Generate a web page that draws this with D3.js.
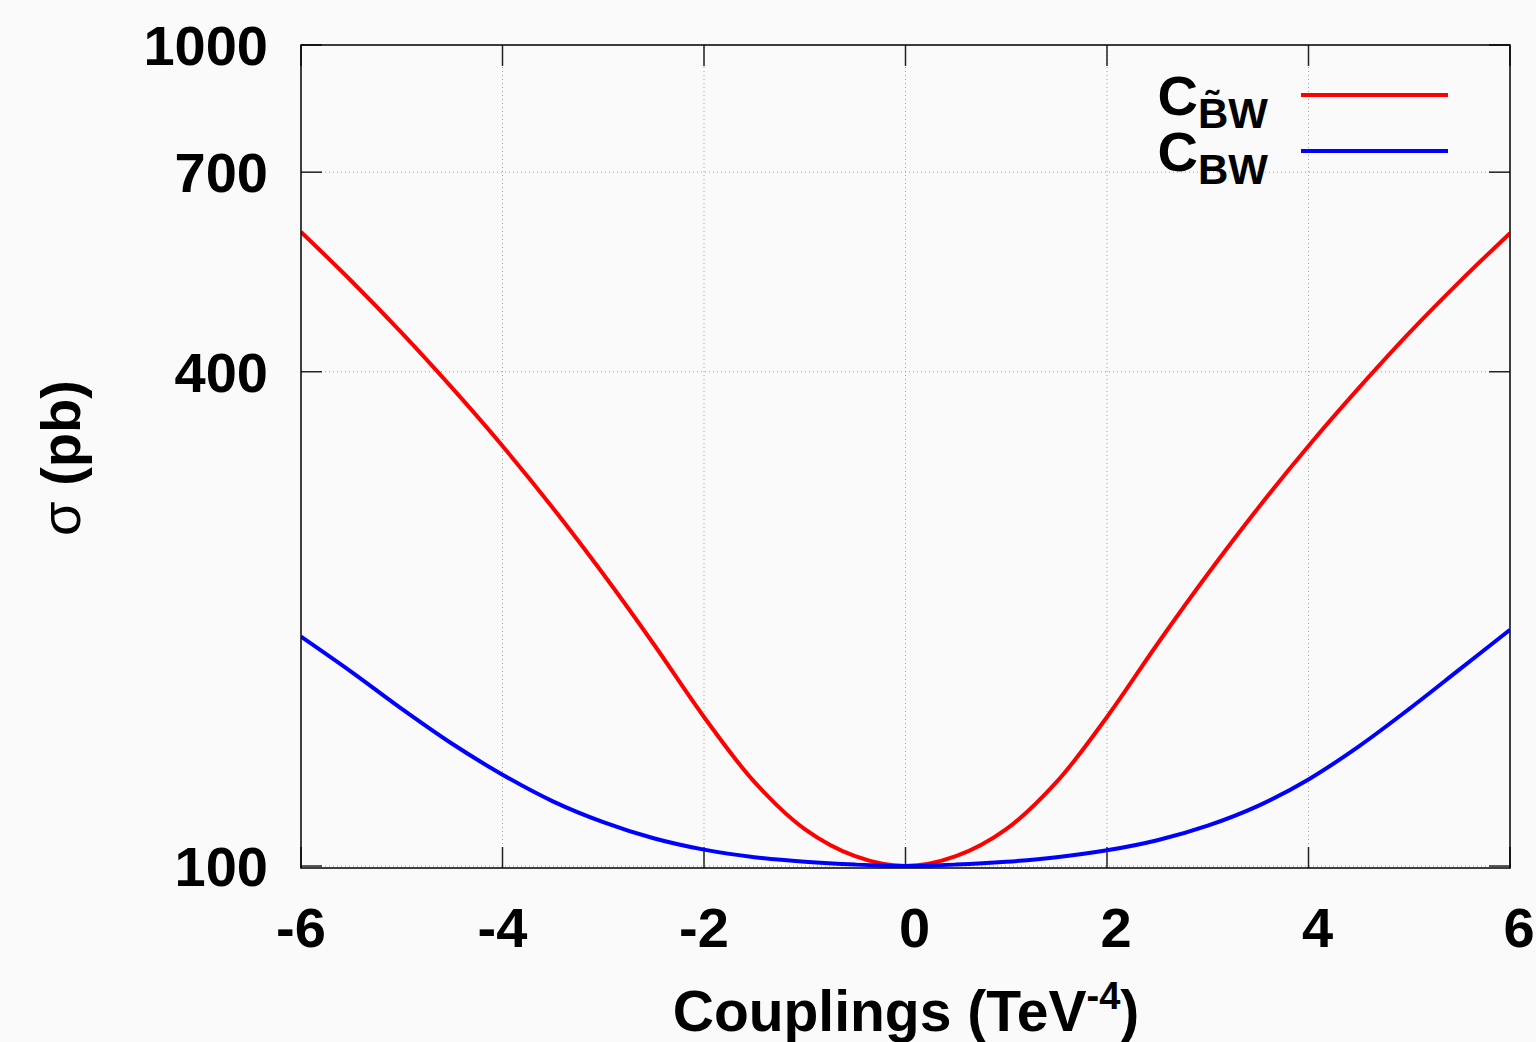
<!DOCTYPE html>
<html>
<head>
<meta charset="utf-8">
<script src="https://cdn.jsdelivr.net/npm/d3@7"></script>
<style>
  body { margin: 0; background: #fafafa; }
  svg { display: block; font-family: "Liberation Sans", Arial, sans-serif; font-weight: bold; }
</style>
</head>
<body>
<div id="chart"></div>
<script>
// couplings (TeV^-4) and cross sections (pb)
const couplings = [-6, -5.5, -5, -4.5, -4, -3.5, -3, -2.5, -2, -1.5, -1, -0.5, 0,
                   0.5, 1, 1.5, 2, 2.5, 3, 3.5, 4, 4.5, 5, 5.5, 6];
const sigmaCBWtilde = [591.9, 515.9, 446.0, 382.2, 324.8, 273.0, 226.8, 186.4, 151.9, 126.6, 110.9, 102.8, 100,
                       102.8, 110.9, 126.6, 151.9, 186.4, 226.8, 273.0, 324.8, 382.2, 446.0, 515.0, 590.0];
const sigmaCBW = [190.3, 172.4, 155.4, 140.9, 129.2, 119.9, 113.1, 108.1, 104.7, 102.5, 101.2, 100.4, 100,
                  100.4, 101.2, 102.5, 104.5, 107.5, 112.0, 118.4, 127.5, 139.9, 155.4, 173.6, 194.0];
const xTicks = [-6, -4, -2, 0, 2, 4, 6];
const yTicks = [100, 400, 700, 1000];

const width = 1536, height = 1042;
const margin = {left: 301, right: 26, top: 45, bottom: 174};

const svg = d3.select("#chart").append("svg")
    .attr("width", width)
    .attr("height", height);

const x = d3.scaleLinear().domain([-6, 6]).range([margin.left, width - margin.right]);
// 100 sits just above the bottom border
const y = d3.scaleLog().domain([99.45, 1000]).range([height - margin.bottom, margin.top]);

const x0 = x.range()[0], x1 = x.range()[1];
const y0 = y.range()[0], y1 = y.range()[1];

// grid
svg.append("g").selectAll("line").data(xTicks.slice(1, -1)).join("line")
    .attr("x1", d => x(d)).attr("x2", d => x(d))
    .attr("y1", y0).attr("y2", y1)
    .attr("stroke", "#a0a0a0").attr("stroke-width", 1).attr("stroke-dasharray", "1,3");
svg.append("g").selectAll("line").data(yTicks).join("line")
    .attr("x1", x0).attr("x2", x1)
    .attr("y1", d => y(d)).attr("y2", d => y(d))
    .attr("stroke", "#a0a0a0").attr("stroke-width", 1).attr("stroke-dasharray", "1,3");

// tick marks (inward, mirrored)
const tl = 21;
const ticks = svg.append("g").attr("stroke", "#222").attr("stroke-width", 1.5);
xTicks.forEach(d => {
    ticks.append("line").attr("x1", x(d)).attr("x2", x(d)).attr("y1", y0).attr("y2", y0 - tl);
    ticks.append("line").attr("x1", x(d)).attr("x2", x(d)).attr("y1", y1).attr("y2", y1 + tl);
});
yTicks.forEach(d => {
    ticks.append("line").attr("x1", x0).attr("x2", x0 + tl).attr("y1", y(d)).attr("y2", y(d));
    ticks.append("line").attr("x1", x1).attr("x2", x1 - tl).attr("y1", y(d)).attr("y2", y(d));
});

// curves
const line = d3.line().curve(d3.curveCatmullRom.alpha(0.5));
const series = [
    {vals: sigmaCBWtilde, color: "#ff0000"},
    {vals: sigmaCBW, color: "#0000ff"}
];
svg.append("clipPath").attr("id", "clip").append("rect")
    .attr("x", x0).attr("y", y1).attr("width", x1 - x0).attr("height", y0 - y1);
series.forEach(s => {
    svg.append("path")
        .attr("d", line(couplings.map((c, i) => [x(c), y(s.vals[i])])))
        .attr("fill", "none")
        .attr("stroke", s.color)
        .attr("stroke-width", 4)
        .attr("clip-path", "url(#clip)");
});

// border
svg.append("rect")
    .attr("x", x0).attr("y", y1).attr("width", x1 - x0).attr("height", y0 - y1)
    .attr("fill", "none").attr("stroke", "#000").attr("stroke-width", 1.5);

// tick labels
svg.append("g").selectAll("text").data(xTicks).join("text")
    .attr("x", d => x(d) + (d >= 0 ? 9 : 0))
    .attr("y", 947)
    .attr("text-anchor", "middle")
    .attr("font-size", 56)
    .text(d => d);
svg.append("g").selectAll("text").data(yTicks).join("text")
    .attr("x", 268)
    .attr("y", d => y(d) + 20)
    .attr("text-anchor", "end")
    .attr("font-size", 56)
    .text(d => d);

// axis titles
const xl = svg.append("text")
    .attr("x", 906).attr("y", 1031)
    .attr("text-anchor", "middle")
    .attr("font-size", 57);
xl.append("tspan").text("Couplings (TeV");
xl.append("tspan").attr("dy", -22).attr("font-size", 38).text("-4");
xl.append("tspan").attr("dy", 22).text(")");

const yl = svg.append("text")
    .attr("transform", "translate(80,458) rotate(-90)")
    .attr("text-anchor", "middle")
    .attr("font-size", 56);
yl.append("tspan").attr("font-weight", "normal").text("σ");
yl.append("tspan").text(" (pb)");

// legend
const legend = [
    {main: "C", sub: "B\u0303W", color: "#ff0000", y: 95},
    {main: "C", sub: "BW", color: "#0000ff", y: 151}
];
legend.forEach(l => {
    const t = svg.append("text")
        .attr("x", 1268).attr("y", l.y + 20)
        .attr("text-anchor", "end")
        .attr("font-size", 56);
    t.append("tspan").text(l.main);
    t.append("tspan").attr("dy", 13).attr("font-size", 42).text(l.sub);
    svg.append("line")
        .attr("x1", 1301).attr("x2", 1448)
        .attr("y1", l.y).attr("y2", l.y)
        .attr("stroke", l.color).attr("stroke-width", 4);
});
</script>
</body>
</html>
